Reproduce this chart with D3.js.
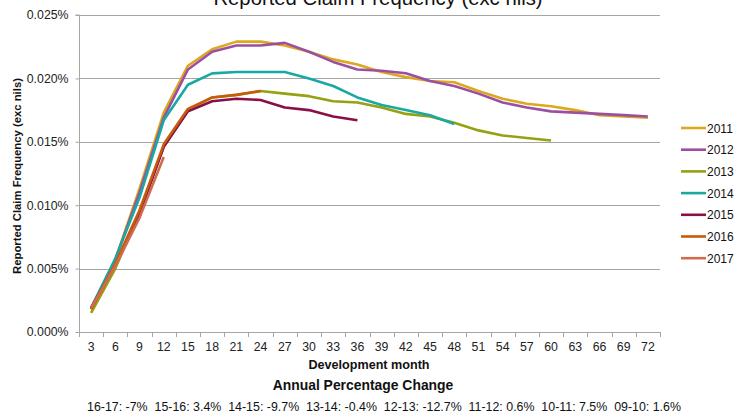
<!DOCTYPE html>
<html>
<head>
<meta charset="utf-8">
<script src="https://cdn.jsdelivr.net/npm/d3@7"></script>
<style>
  html, body { margin: 0; padding: 0; background: #fff; }
  svg { display: block; font-family: "Liberation Sans", Arial, sans-serif; }
</style>
</head>
<body>
<svg id="chart" width="737" height="413"></svg>
<script>
// Development months (x categories)
const months = [3, 6, 9, 12, 15, 18, 21, 24, 27, 30, 33, 36, 39, 42, 45, 48, 51, 54, 57, 60, 63, 66, 69, 72];

// Reported claim frequency (exc nils), in percent, per accident year
const y2011 = [0.0018, 0.0057, 0.0113, 0.0173, 0.0210, 0.0223, 0.0229, 0.0229, 0.0226, 0.0221, 0.0215, 0.0211, 0.0205, 0.0201, 0.0198, 0.0197, 0.0190, 0.0184, 0.0180, 0.0178, 0.0175, 0.0171, 0.0170, 0.0169];
const y2012 = [0.0018, 0.0057, 0.0110, 0.0169, 0.0207, 0.0221, 0.0226, 0.0226, 0.0228, 0.0221, 0.0213, 0.0207, 0.0206, 0.0204, 0.0198, 0.0194, 0.0188, 0.0181, 0.0177, 0.0174, 0.0173, 0.0172, 0.0171, 0.0170];
const y2013 = [0.0015, 0.0050, 0.0095, 0.0146, 0.0175, 0.0185, 0.0187, 0.0190, 0.0188, 0.0186, 0.0182, 0.0181, 0.0177, 0.0172, 0.0170, 0.0165, 0.0159, 0.0155, 0.0153, 0.0151];
const y2014 = [0.0019, 0.0058, 0.0106, 0.0167, 0.0195, 0.0204, 0.0205, 0.0205, 0.0205, 0.0200, 0.0194, 0.0185, 0.0179, 0.0175, 0.0171, 0.0164];
const y2015 = [0.0019, 0.0053, 0.0093, 0.0146, 0.0174, 0.0182, 0.0184, 0.0183, 0.0177, 0.0175, 0.0170, 0.0167];
const y2016 = [0.0018, 0.0054, 0.0096, 0.0148, 0.0176, 0.0185, 0.0187, 0.0190];
const y2017 = [0.0019, 0.0052, 0.0090, 0.0138];

const years = ["2011", "2012", "2013", "2014", "2015", "2016", "2017"];
const seriesValues = [y2011, y2012, y2013, y2014, y2015, y2016, y2017];
const colors = ["#DDA81E", "#9B4FA3", "#97A00E", "#1AA8A3", "#8A0F48", "#C55C0C", "#D26A4F"];

const yTicks = [0, 0.005, 0.010, 0.015, 0.020, 0.025];

const changes = ["16-17: -7%", "15-16: 3.4%", "14-15: -9.7%", "13-14: -0.4%", "12-13: -12.7%", "11-12: 0.6%", "10-11: 7.5%", "09-10: 1.6%"];

const svg = d3.select("#chart");
const plot = { left: 79, right: 660, top: 15, bottom: 332 };

const x = d3.scaleBand().domain(months).range([plot.left, plot.right]).paddingInner(0).paddingOuter(0);
const y = d3.scaleLinear().domain([0, 0.025]).range([plot.bottom, plot.top]);
const gridColor = "#A6A6A6";
const font = "Liberation Sans, Arial, sans-serif";

// Horizontal gridlines
svg.append("g").selectAll("line").data(yTicks.filter(d => d > 0)).join("line")
  .attr("x1", plot.left).attr("x2", plot.right)
  .attr("y1", d => Math.round(y(d)) + 0.5).attr("y2", d => Math.round(y(d)) + 0.5)
  .attr("stroke", gridColor).attr("stroke-width", 1);

// Y axis
const yAxis = svg.append("g").attr("transform", `translate(${plot.left + 0.5},0)`)
  .call(d3.axisLeft(y).tickValues(yTicks).tickSize(4).tickPadding(7).tickFormat(d => d3.format(".3f")(d) + "%"));
yAxis.select(".domain").attr("stroke", gridColor).attr("d", `M-4,${plot.top}H0V${plot.bottom + 4}`);
yAxis.selectAll(".tick line").attr("stroke", gridColor);
yAxis.selectAll(".tick text").attr("font-size", 12.3).attr("fill", "#222").attr("font-family", font);

// X axis with ticks between categories
const xAxis = svg.append("g").attr("transform", `translate(0,${plot.bottom + 0.5})`)
  .call(d3.axisBottom(x).tickSize(0).tickPadding(10));
xAxis.select(".domain").attr("stroke", gridColor).attr("d", `M${plot.left},0H${plot.right}`);
xAxis.selectAll(".tick text").attr("font-size", 12.3).attr("fill", "#222").attr("font-family", font);
svg.append("g").selectAll("line").data(months.concat([null])).join("line")
  .attr("x1", (d, i) => Math.round(plot.left + i * x.bandwidth()) + 0.5)
  .attr("x2", (d, i) => Math.round(plot.left + i * x.bandwidth()) + 0.5)
  .attr("y1", plot.bottom).attr("y2", plot.bottom + 5)
  .attr("stroke", gridColor);

// Series lines
const line = d3.line().x((d, i) => x(months[i]) + x.bandwidth() / 2).y(d => y(d));
svg.append("g").selectAll("path").data(seriesValues).join("path")
  .attr("d", line)
  .attr("fill", "none")
  .attr("stroke", (d, i) => colors[i])
  .attr("stroke-width", 2.6)
  .attr("stroke-linejoin", "round");

// Title (runs off the top edge)
svg.append("text").attr("x", 378).attr("y", 5).attr("text-anchor", "middle")
  .attr("font-size", 20.3).attr("fill", "#111").text("Reported Claim Frequency (exc nils)");

// Y axis title
svg.append("text").attr("transform", "translate(21,176) rotate(-90)").attr("text-anchor", "middle")
  .attr("font-size", 11.3).attr("font-weight", "bold").attr("fill", "#111")
  .text("Reported Claim Frequency (exc nils)");

// X axis title
svg.append("text").attr("x", 369).attr("y", 368.5).attr("text-anchor", "middle")
  .attr("font-size", 12.6).attr("font-weight", "bold").attr("fill", "#111").text("Development month");

svg.append("text").attr("x", 363).attr("y", 390).attr("text-anchor", "middle")
  .attr("font-size", 13.9).attr("font-weight", "bold").attr("fill", "#111").text("Annual Percentage Change");

svg.append("text").attr("x", 384).attr("y", 411).attr("text-anchor", "middle")
  .attr("font-size", 12.4).attr("fill", "#111").attr("xml:space", "preserve")
  .style("white-space", "pre")
  .text(changes.join("  "));

// Legend
const legend = svg.append("g").selectAll("g").data(years).join("g")
  .attr("transform", (d, i) => `translate(681,${128 + i * 21.7})`);
legend.append("line").attr("x1", 0).attr("x2", 25).attr("y1", 0).attr("y2", 0)
  .attr("stroke", (d, i) => colors[i]).attr("stroke-width", 2.6);
legend.append("text").attr("x", 26).attr("y", 4.5).attr("font-size", 12).attr("fill", "#111").text(d => d);
</script>
</body>
</html>
